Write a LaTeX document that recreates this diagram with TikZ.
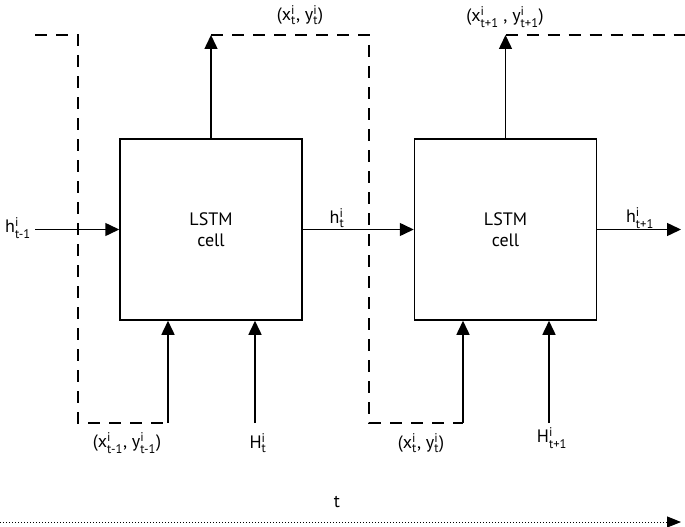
\documentclass[tikz,border=0pt]{standalone}
\usepackage{fontspec}
\usepackage{amsmath}
\setmainfont{PT Sans}
\usetikzlibrary{arrows.meta,positioning}
\newcommand{\vlab}[3]{#1$^{\text{#2}}_{\text{#3}}$}

\begin{document}
\begin{tikzpicture}[x=1pt,y=-1pt,
    cellbox/.style={draw,line width=1.5pt,minimum width=182pt,minimum height=181pt,align=center,font=\fontsize{18}{21}\selectfont},
    flow/.style={line width=1.5pt,-{Triangle[length=14pt,width=13pt]}},
    feed/.style={line width=1.5pt,dash pattern=on 12pt off 9pt},
    lbl/.style={font=\fontsize{18}{21}\selectfont,inner sep=0pt}]

    \useasboundingbox (0,0) rectangle (685,527);

    % Zellen
    \node[cellbox] (cell1) at (211,229.5) {LSTM\\cell};
    \node[cellbox] (cell2) at (505.5,229.5) {LSTM\\cell};

    % Endpunkte
    \coordinate (hin) at (35,229.5);
    \coordinate (hout) at (681,229.5);
    \coordinate (top1) at (211,35);
    \coordinate (top2) at (505.5,35);
    \coordinate (fb0) at (168,423);
    \coordinate (fb1) at (463,423);
    \coordinate (hh1) at (255,423);
    \coordinate (hh2) at (549,423);

    % Zustand h
    \draw[flow] (hin) -- (cell1.west);
    \draw[flow] (cell1.east) -- (cell2.west);
    \draw[flow] (cell2.east) -- (hout);

    % Ausgaben
    \draw[flow] (cell1.north) -- (top1);
    \draw[flow] (cell2.north) -- (top2);

    % Rueckfuehrung (gestrichelt)
    \draw[feed] (35,35) -- (78,35) -- (78,423) -- (fb0);
    \draw[feed] (top1) -- (369,35) -- (369,423) -- (fb1);
    \draw[feed] (top2) -- (685,35);

    % Eingaenge
    \draw[flow] (fb0) -- (cell1.south -| fb0);
    \draw[flow] (fb1) -- (cell2.south -| fb1);
    \draw[flow] (hh1) -- (cell1.south -| hh1);
    \draw[flow] (hh2) -- (cell2.south -| hh2);

    % Beschriftungen
    \node[lbl] (lh0) at (18,228) {\vlab{h}{i}{t-1}};
    \node[lbl] (lh1) at (337,218) {\vlab{h}{i}{t}};
    \node[lbl] (lh2) at (640,218) {\vlab{h}{i}{t+1}};
    \node[lbl] (lo1) at (300,15) {(\vlab{x}{i}{t}, \vlab{y}{i}{t})};
    \node[lbl] (lo2) at (505,17) {(\vlab{x}{i}{t+1} , \vlab{y}{i}{t+1})};
    \node[lbl] (li0) at (127,443) {(\vlab{x}{i}{t-1}, \vlab{y}{i}{t-1})};
    \node[lbl] (li1) at (421,443) {(\vlab{x}{i}{t}, \vlab{y}{i}{t})};
    \node[lbl] (lH1) at (258,443) {\vlab{H}{i}{t}};
    \node[lbl] (lH2) at (552,438) {\vlab{H}{i}{t+1}};

    % Zeitachse
    \node[lbl] (tlab) at (337,502) {t};
    \coordinate (ax0) at (0,522);
    \coordinate (ax1) at (681,522);
    \draw[line width=1pt,dotted,-{Triangle[length=14pt,width=11pt]}] (ax0) -- (ax1);
\end{tikzpicture}
\end{document}
